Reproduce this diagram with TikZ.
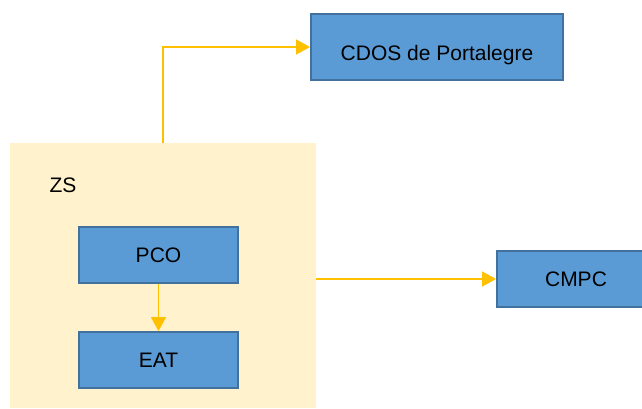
\documentclass[tikz,border=0pt]{standalone}
\usepackage{fontspec}
\setmainfont{Liberation Sans}
\usepackage{xcolor}
\usetikzlibrary{positioning,arrows.meta}

\definecolor{boxblue}{HTML}{5B9BD5}
\definecolor{boxedge}{HTML}{41719C}
\definecolor{zonefill}{HTML}{FFF2CC}
\definecolor{linkgold}{HTML}{FFC000}

\begin{document}
\begin{tikzpicture}[x=1pt,y=-1pt,
    unitbox/.style={draw=boxedge, fill=boxblue, line width=1.8pt,
      font=\fontsize{21}{25}\selectfont, inner sep=0pt},
    link/.style={draw=linkgold, line width=1.3pt,
      -{Triangle[length=14pt,width=15pt]}}]
  \useasboundingbox (0,0) rectangle (642,408);

  % Zone
  \node[fill=zonefill, minimum width=306pt, minimum height=265pt, inner sep=0pt]
    (zs) at (163,275.5) {};
  \node[font=\fontsize{21}{25}\selectfont] (zslabel) at (63,185) {ZS};

  % Units inside the zone
  \node[unitbox, minimum width=159pt, minimum height=56pt] (pco) at (158.5,255) {PCO};
  \node[unitbox, minimum width=159pt, minimum height=56pt] (eat) at (158.5,360) {EAT};

  % Outside units
  \node[unitbox, minimum width=252pt, minimum height=66pt, text height=27pt, text depth=0pt]
    (cdos) at (437,47) {CDOS de Portalegre};
  \node[unitbox, minimum width=150pt, minimum height=56pt] (cmpc) at (572,279) {\hspace*{8pt}CMPC};

  % Links
  \draw[link] (pco) -- (eat);
  \draw[link] (zs.north) |- (cdos.west);
  \draw[link] (zs.east |- cmpc.west) -- (cmpc.west);
\end{tikzpicture}
\end{document}
